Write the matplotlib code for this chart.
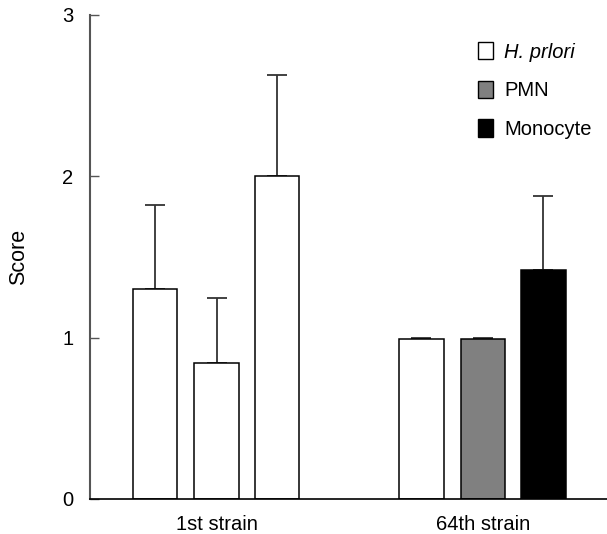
import numpy as np
import matplotlib
matplotlib.use("Agg")
from matplotlib import pyplot as plt
from matplotlib.patches import Patch

plt.rcParams['font.family'] = ['Liberation Sans', 'DejaVu Sans']

groups = ["1st strain", "64th strain"]
series = ["H. prlori", "PMN", "Monocyte"]
strain1 = [1.30, 0.845, 2.00]
strain1_err = [0.52, 0.40, 0.63]
strain64 = [0.99, 0.99, 1.42]
strain64_err = [0.01, 0.01, 0.46]

# 1st strain bars are all white in the source figure
colors1 = ["white", "white", "white"]
colors64 = ["white", "#808080", "black"]

fig = plt.figure(figsize=(6.07, 5.34), dpi=100)
ax = fig.add_axes([90/607, 35/534, 517/607, 484/534])

offsets = np.array([-0.232, 0.0, 0.226])
width = 0.167
x1 = 0 + offsets
x2 = 1 + offsets

for xs, vals, errs, cols in [(x1, strain1, strain1_err, colors1),
                             (x2, strain64, strain64_err, colors64)]:
    ax.bar(xs, vals, width=width, color=cols, edgecolor="black", linewidth=1.1, zorder=2)
    ax.errorbar(xs, vals, yerr=[np.zeros(3), errs], fmt="none", ecolor="#333333",
                elinewidth=1.3, capsize=7, capthick=1.3, zorder=1)

ax.set_xlim(-0.475, 1.465)
ax.set_ylim(0, 3)
ax.set_yticks([0, 1, 2, 3])
ax.set_xticks([0, 1])
ax.set_xticklabels(groups)
ax.tick_params(axis="y", direction="in", length=6.5, width=1, color="#555555", pad=12, labelsize=14.5)
ax.tick_params(axis="x", length=0, pad=11.5, labelsize=14.5)
ax.spines["top"].set_visible(False)
ax.spines["right"].set_visible(False)
ax.spines["left"].set_color("#555555")
ax.spines["left"].set_linewidth(1.5)
ax.spines["bottom"].set_linewidth(1.2)
ax.set_ylabel("Score", fontsize=15.5)
ax.yaxis.set_label_coords(-0.118, 0.5)

handles = [Patch(facecolor=c, edgecolor="black", linewidth=1) for c in colors64]
leg = fig.legend(handles, series, loc="upper left", bbox_to_anchor=(478/607, 1 - 42/534),
                 frameon=False, fontsize=14.5, handlelength=0.75, handleheight=0.95,
                 handletextpad=0.55, labelspacing=0.95, borderpad=0, borderaxespad=0)
leg.get_texts()[0].set_fontstyle("italic")

fig.savefig("out.png", dpi=100)
